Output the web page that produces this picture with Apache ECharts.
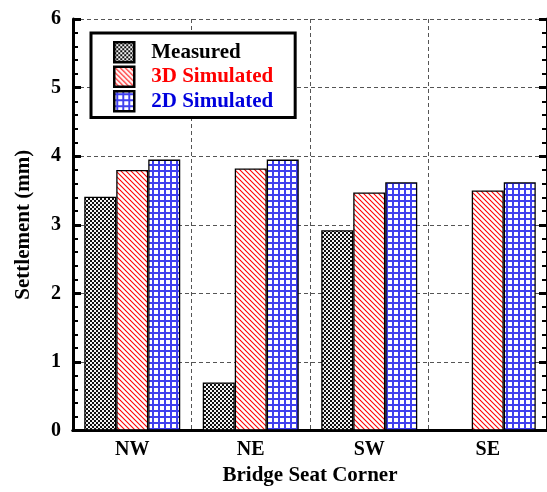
<!DOCTYPE html>
<html>
<head>
<meta charset="utf-8">
<script src="https://cdn.jsdelivr.net/npm/echarts@6/dist/echarts.min.js"></script>
<style>
html,body{margin:0;padding:0;background:#fff;}
#chart{width:547px;height:492px;}
</style>
</head>
<body>
<div id="chart"></div>
<script>
var categories = ['NW', 'NE', 'SW', 'SE'];
var measured = [3.41, 0.70, 2.92, null];
var sim3D = [3.80, 3.82, 3.47, 3.50];
var sim2D = [3.95, 3.95, 3.62, 3.62];
var seriesNames = ['Measured', '3D Simulated', '2D Simulated'];
var yTicks = [0, 1, 2, 3, 4, 5, 6];

function makeTile(size, draw) {
  var c = document.createElement('canvas');
  c.width = size; c.height = size;
  var ctx = c.getContext('2d');
  draw(ctx, size);
  return {image: c, repeat: 'repeat'};
}
var checkPattern = makeTile(4, function (ctx) {
  ctx.fillStyle = '#f4f4f4'; ctx.fillRect(0, 0, 4, 4);
  ctx.fillStyle = '#111';
  ctx.fillRect(2, 0, 2, 2);
  ctx.fillRect(0, 2, 2, 2);
});
var diagPattern = makeTile(5, function (ctx, s) {
  ctx.fillStyle = '#fff'; ctx.fillRect(0, 0, s, s);
  ctx.strokeStyle = '#ff0000'; ctx.lineWidth = 1.1;
  for (var k = -s; k <= s; k += s) {
    ctx.beginPath(); ctx.moveTo(k - 1, -1); ctx.lineTo(k + s + 1, s + 1); ctx.stroke();
  }
});
var gridPattern = makeTile(6, function (ctx, s) {
  ctx.fillStyle = '#fff'; ctx.fillRect(0, 0, s, s);
  ctx.fillStyle = '#4040ee';
  ctx.fillRect(2, 0, 2, s);
  ctx.fillRect(0, 2, s, 2);
});

var FONT = 'Liberation Serif';
var chart = echarts.init(document.getElementById('chart'), null, {renderer: 'canvas'});
var dashed = {show: true, lineStyle: {color: '#555', type: [4, 3], width: 1}};
var barStyle = function (c) { return {color: c, borderColor: '#000', borderWidth: 1.3}; };

chart.setOption({
  animation: false,
  backgroundColor: '#fff',
  grid: {left: 73, top: 19, width: 480, height: 411.5, containLabel: false},
  legend: {
    left: 91, top: 33,
    orient: 'vertical',
    icon: 'rect',
    backgroundColor: '#fff',
    borderColor: '#000', borderWidth: 3,
    padding: [8, 22, 5, 22],
    itemGap: 2, itemWidth: 20, itemHeight: 20,
    textStyle: {fontFamily: FONT, fontWeight: 'bold', fontSize: 21, lineHeight: 20, padding: [0, 0, 0, 12]},
    data: [
      {name: seriesNames[0], icon: 'rect', itemStyle: {borderColor: '#000', borderWidth: 2.5}, textStyle: {color: '#000'}},
      {name: seriesNames[1], icon: 'rect', itemStyle: {borderColor: '#000', borderWidth: 2.5}, textStyle: {color: '#ff0000'}},
      {name: seriesNames[2], icon: 'rect', itemStyle: {borderColor: '#000', borderWidth: 2.5}, textStyle: {color: '#0000dd'}}
    ]
  },
  xAxis: [{
    type: 'category', data: categories, position: 'bottom',
    axisLine: {lineStyle: {color: '#000', width: 3}},
    axisTick: {inside: true, length: 8, lineStyle: {width: 3, color: '#000'}},
    axisLabel: {fontFamily: FONT, fontWeight: 'bold', fontSize: 20, color: '#000', margin: 9},
    splitLine: dashed,
    name: 'Bridge Seat Corner', nameLocation: 'middle', nameGap: 35,
    nameTextStyle: {fontFamily: FONT, fontWeight: 'bold', fontSize: 21, color: '#000'}
  }, {
    type: 'category', data: categories, position: 'top',
    axisLine: {lineStyle: {color: '#000', width: 3}},
    axisTick: {inside: true, length: 8, lineStyle: {width: 3, color: '#000'}},
    axisLabel: {show: false}, splitLine: {show: false}
  }],
  yAxis: [{
    type: 'value', min: yTicks[0], max: yTicks[yTicks.length - 1], interval: 1, position: 'left',
    axisLine: {show: true, lineStyle: {color: '#000', width: 3}},
    axisTick: {show: true, inside: true, length: 8, lineStyle: {width: 3, color: '#000'}},
    minorTick: {show: true, splitNumber: 5, length: 5, lineStyle: {width: 2, color: '#000'}},
    axisLabel: {fontFamily: FONT, fontWeight: 'bold', fontSize: 20, color: '#000', margin: 12},
    splitLine: dashed,
    name: 'Settlement (mm)', nameLocation: 'middle', nameGap: 39,
    nameTextStyle: {fontFamily: FONT, fontWeight: 'bold', fontSize: 21, color: '#000'}
  }, {
    type: 'value', min: yTicks[0], max: yTicks[yTicks.length - 1], interval: 1, position: 'right',
    axisLine: {show: true, lineStyle: {color: '#000', width: 3}},
    axisTick: {show: true, inside: true, length: 8, lineStyle: {width: 3, color: '#000'}},
    minorTick: {show: true, splitNumber: 5, length: 5, lineStyle: {width: 2, color: '#000'}},
    axisLabel: {show: false}, splitLine: {show: false}
  }],
  series: [
    {name: seriesNames[0], type: 'bar', data: measured, barWidth: 32, barGap: '0%', itemStyle: barStyle(checkPattern)},
    {name: seriesNames[1], type: 'bar', data: sim3D, barWidth: 32, barGap: '0%', itemStyle: barStyle(diagPattern)},
    {name: seriesNames[2], type: 'bar', data: sim2D, barWidth: 32, barGap: '0%', itemStyle: barStyle(gridPattern)}
  ]
});
</script>
</body>
</html>
